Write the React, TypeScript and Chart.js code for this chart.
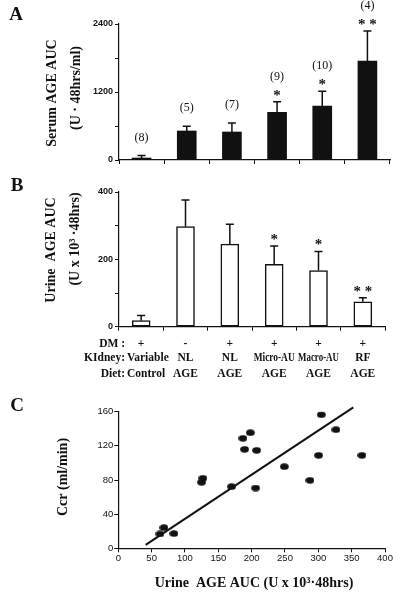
import React, { useEffect, useRef } from "react";
import { Chart, registerables } from "chart.js";
Chart.register(...registerables);

// ---------- data ----------
const groups = ["Control", "NL-AGE", "DM NL-AGE", "Micro-AU", "Macro-AU", "RF"];
const serumMean = [35, 512, 494, 841, 953, 1747];
const serumErr = [45, 82, 159, 188, 259, 529];
const serumN = ["(8)", "(5)", "(7)", "(9)", "(10)", "(4)"];
const serumSig = ["", "", "", "*", "*", "**"];
const serumTicks = [0, 1200, 2400];

const urineMean = [18, 297, 245, 185, 167, 74];
const urineErr = [15, 79, 59, 55, 56, 12];
const urineSig = ["", "", "", "*", "*", "**"];
const urineTicks = [0, 200, 400];

const rowHeaders = ["DM :", "KIdney:", "Diet:"];
const dmRow = ["+", "-", "+", "+", "+", "+"];
const kidneyRow = ["Variable", "NL", "NL", "Micro-AU", "Macro-AU", "RF"];
const dietRow = ["Control", "AGE", "AGE", "AGE", "AGE", "AGE"];

const urineAuc = [62.5, 68.5, 83.5, 125, 127, 170, 187, 189.5, 198, 207.5, 206, 249, 287.5, 300.5, 304.5, 326.5, 365.5];
const ccr = [16.8, 24.2, 17.2, 77.3, 82, 72.2, 128.8, 115.9, 135.4, 114.7, 70.6, 95.6, 79.6, 108.9, 156.5, 138.9, 108.9];
const fitX = [41, 352.5];
const fitY = [4, 165];

// ---------- styles ----------
const SERIF = "'Liberation Serif', 'Times New Roman', serif";
const SANS = "'Liberation Sans', Arial, sans-serif";
const INK = "#111";

type TextItem = { text: string; x: number; y: number; font: string; align?: CanvasTextAlign; rotate?: boolean };

function drawTexts(ctx: CanvasRenderingContext2D, items: TextItem[], top: number) {
  ctx.save();
  ctx.fillStyle = INK;
  ctx.textBaseline = "middle";
  for (const it of items) {
    ctx.font = it.font;
    ctx.textAlign = it.align || "center";
    if (it.rotate) {
      ctx.save();
      ctx.translate(it.x, it.y - top);
      ctx.rotate(-Math.PI / 2);
      ctx.fillText(it.text, 0, 0);
      ctx.restore();
    } else {
      ctx.fillText(it.text, it.x, it.y - top);
    }
  }
  ctx.restore();
}

function textPlugin(items: TextItem[], top: number) {
  return {
    id: "statictext",
    afterDraw(chart: any) {
      drawTexts(chart.ctx, items, top);
    },
  };
}

function errorPlugin(err: number[], nLabels: string[] | null, sig: string[]) {
  return {
    id: "errbars",
    afterDatasetsDraw(chart: any) {
      const ctx = chart.ctx as CanvasRenderingContext2D;
      const meta = chart.getDatasetMeta(0);
      const ys = chart.scales.y;
      const vals = chart.data.datasets[0].data as number[];
      ctx.save();
      ctx.strokeStyle = INK;
      ctx.fillStyle = INK;
      ctx.lineWidth = 1.5;
      meta.data.forEach((el: any, i: number) => {
        const x = el.x;
        const yTop = ys.getPixelForValue(vals[i]);
        const yErr = ys.getPixelForValue(vals[i] + err[i]);
        ctx.beginPath();
        ctx.moveTo(x, yTop);
        ctx.lineTo(x, yErr);
        ctx.moveTo(x - 4, yErr);
        ctx.lineTo(x + 4, yErr);
        ctx.stroke();
        ctx.textAlign = "center";
        ctx.textBaseline = "middle";
        if (sig[i]) {
          ctx.font = `bold 15px ${SERIF}`;
          ctx.fillText(sig[i].split("").join(" "), x, yErr - 6);
        }
        if (nLabels) {
          ctx.font = `12px ${SERIF}`;
          ctx.fillText(nLabels[i], x, yErr - (sig[i] ? 25 : 18));
        }
      });
      ctx.restore();
    },
  };
}

function rowsPlugin(top: number) {
  return {
    id: "rows",
    afterDraw(chart: any) {
      const ctx = chart.ctx as CanvasRenderingContext2D;
      const xs = chart.scales.x;
      const rowsY = [344, 358.5, 374];
      const rows = [dmRow, kidneyRow, dietRow];
      ctx.save();
      ctx.fillStyle = INK;
      ctx.textBaseline = "middle";
      ctx.font = `bold 11.5px ${SERIF}`;
      rowsY.forEach((py, r) => {
        const y = py - top;
        ctx.textAlign = "right";
        ctx.fillText(rowHeaders[r], 125, y);
        rows[r].forEach((t, i) => {
          let x = xs.getPixelForValue(i);
          if (i === 0 && r > 0) {
            ctx.textAlign = "left";
            ctx.fillText(t, 127, y);
          } else {
            ctx.textAlign = "center";
            if (i === 0) x = 141;
            ctx.fillText(t, x, y, 41);
          }
        });
      });
      ctx.restore();
    },
  };
}

const gridTicks = (len = 4) => ({
  display: true,
  drawOnChartArea: false,
  drawTicks: true,
  tickLength: len,
  color: INK,
  lineWidth: 1,
});

function ellipsePoint() {
  const c = document.createElement("canvas");
  c.width = 9;
  c.height = 7;
  const g = c.getContext("2d")!;
  g.fillStyle = INK;
  g.beginPath();
  g.ellipse(4.5, 3.5, 4.3, 3.2, 0, 0, Math.PI * 2);
  g.fill();
  return c;
}

export default function App() {
  const refA = useRef<HTMLCanvasElement>(null);
  const refB = useRef<HTMLCanvasElement>(null);
  const refC = useRef<HTMLCanvasElement>(null);

  useEffect(() => {
    const charts: Chart[] = [];
    const tickFont = { family: SANS, size: 9, weight: "bold" as const };

    // Panel A
    const topA = 0;
    charts.push(
      new Chart(refA.current!, {
        type: "bar",
        data: {
          labels: groups,
          datasets: [
            {
              data: serumMean,
              backgroundColor: INK,
              borderWidth: 0,
              barThickness: 19,
            },
          ],
        },
        options: {
          animation: false,
          responsive: false,
          layout: { padding: { top: 24, right: 10, left: 0, bottom: 0 } },
          plugins: { legend: { display: false }, tooltip: { enabled: false } },
          scales: {
            x: {
              grid: { ...gridTicks(4), offset: true },
              border: { color: INK, width: 1.2 },
              ticks: { display: false },
              afterFit: (s: any) => {
                s.height = 10;
              },
            },
            y: {
              min: 0,
              max: 2400,
              grid: gridTicks(4),
              border: { color: INK, width: 1.2 },
              ticks: {
                stepSize: 600,
                padding: 2,
                color: INK,
                font: tickFont,
                callback: (v: any) => (serumTicks.includes(Number(v)) ? String(v) : ""),
              },
              afterFit: (s: any) => {
                s.width = 119;
              },
            },
          },
        },
        plugins: [
          errorPlugin(serumErr, serumN, serumSig),
          textPlugin(
            [
              { text: "A", x: 16, y: 15, font: `bold 19px ${SERIF}` },
              { text: "Serum AGE AUC", x: 52, y: 93, font: `bold 14px ${SERIF}`, rotate: true },
              { text: "(U \u00b7 48hrs/ml)", x: 76, y: 88, font: `bold 14px ${SERIF}`, rotate: true },
            ],
            topA
          ),
        ],
      })
    );

    // Panel B
    const topB = 170;
    charts.push(
      new Chart(refB.current!, {
        type: "bar",
        data: {
          labels: groups,
          datasets: [
            {
              data: urineMean,
              backgroundColor: "#fff",
              borderColor: INK,
              borderWidth: 1.5,
              borderSkipped: false,
              barThickness: 18,
            },
          ],
        },
        options: {
          animation: false,
          responsive: false,
          layout: { padding: { top: 22, right: 15, left: 0, bottom: 0 } },
          plugins: { legend: { display: false }, tooltip: { enabled: false } },
          scales: {
            x: {
              grid: { ...gridTicks(4), offset: true },
              border: { color: INK, width: 1.2 },
              ticks: { display: false },
              afterFit: (s: any) => {
                s.height = 63.3;
              },
            },
            y: {
              min: 0,
              max: 400,
              grid: gridTicks(4),
              border: { color: INK, width: 1.2 },
              ticks: {
                stepSize: 100,
                padding: 2,
                color: INK,
                font: tickFont,
                callback: (v: any) => (urineTicks.includes(Number(v)) ? String(v) : ""),
              },
              afterFit: (s: any) => {
                s.width = 119;
              },
            },
          },
        },
        plugins: [
          errorPlugin(urineErr, null, urineSig),
          rowsPlugin(topB),
          textPlugin(
            [
              { text: "B", x: 17, y: 186, font: `bold 19px ${SERIF}` },
              { text: "Urine  AGE AUC", x: 51, y: 250, font: `bold 14px ${SERIF}`, rotate: true },
              { text: "(U x 10\u00b3 \u00b748hrs)", x: 75, y: 239, font: `bold 14px ${SERIF}`, rotate: true },
            ],
            topB
          ),
        ],
      })
    );

    // Panel C
    const topC = 390;
    const pts = urineAuc.map((x, i) => ({ x, y: ccr[i] }));
    const fit = fitX.map((x, i) => ({ x, y: fitY[i] }));
    charts.push(
      new Chart(refC.current!, {
        type: "scatter",
        data: {
          datasets: [
            {
              data: pts,
              pointStyle: ellipsePoint() as any,
              pointRadius: 4,
              backgroundColor: INK,
              borderColor: INK,
            },
            {
              type: "line",
              data: fit,
              borderColor: INK,
              borderWidth: 2,
              pointRadius: 0,
              showLine: true,
              fill: false,
              clip: false as any,
            } as any,
          ],
        },
        options: {
          animation: false,
          responsive: false,
          layout: { padding: { top: 21.7, right: 15, left: 0, bottom: 0 } },
          plugins: { legend: { display: false }, tooltip: { enabled: false } },
          scales: {
            x: {
              type: "linear",
              min: 0,
              max: 400,
              grid: gridTicks(4),
              border: { color: INK, width: 1.2 },
              ticks: { stepSize: 50, padding: 0, color: INK, font: { family: SANS, size: 9.5 } },
              afterFit: (s: any) => {
                s.height = 54.7;
              },
            },
            y: {
              min: 0,
              max: 160,
              grid: gridTicks(4),
              border: { color: INK, width: 1.2 },
              ticks: { stepSize: 40, padding: 1, color: INK, font: { family: SANS, size: 9.5 } },
              afterFit: (s: any) => {
                s.width = 118.3;
              },
            },
          },
        },
        plugins: [
          textPlugin(
            [
              { text: "C", x: 17, y: 406, font: `bold 19px ${SERIF}` },
              { text: "Ccr (ml/min)", x: 63, y: 477, font: `bold 14px ${SERIF}`, rotate: true },
              { text: "Urine  AGE AUC (U x 10\u00b3\u00b748hrs)", x: 254, y: 583, font: `bold 14px ${SERIF}` },
            ],
            topC
          ),
        ],
      })
    );

    return () => charts.forEach((c) => c.destroy());
  }, []);

  const box = (top: number, h: number): React.CSSProperties => ({
    position: "absolute",
    left: 0,
    top,
    width: 400,
    height: h,
  });

  return (
    <div style={{ position: "absolute", left: 0, top: 0, width: 400, height: 603, background: "#fff" }}>
      <div style={box(0, 170)}>
        <canvas ref={refA} width={400} height={170} style={{ display: "block" }} />
      </div>
      <div style={box(170, 220)}>
        <canvas ref={refB} width={400} height={220} style={{ display: "block" }} />
      </div>
      <div style={box(390, 213)}>
        <canvas ref={refC} width={400} height={213} style={{ display: "block" }} />
      </div>
    </div>
  );
}
